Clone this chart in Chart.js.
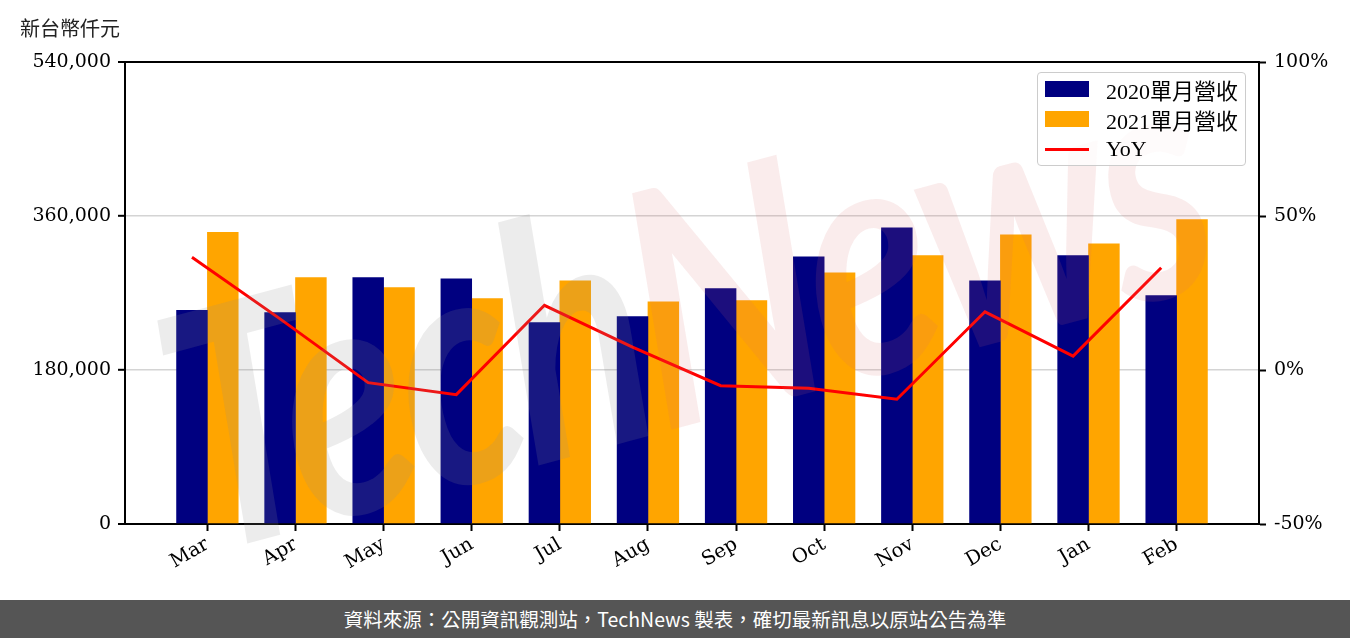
<!DOCTYPE html>
<html>
<head>
<meta charset="utf-8">
<script src="https://cdn.jsdelivr.net/npm/chart.js@4"></script>
<style>
  body { margin: 0; background: #fff; }
  #wrap { position: relative; width: 1350px; height: 638px; overflow: hidden; }
  #box { position: absolute; left: 0; top: 0; width: 1350px; height: 600px; }
  #unit { position: absolute; left: 20px; top: 13px; font: 20px "Noto Sans CJK TC", sans-serif; color: #222; }
  #legend { position: absolute; left: 1037px; top: 72px; width: 207px; height: 92px;
            border: 1px solid #ccc; border-radius: 4px; background: rgba(255,255,255,0.8); }
  .row { position: absolute; left: 7px; height: 30px; display: flex; align-items: center;
         font: 22px "Liberation Serif", "Noto Sans CJK TC", serif; color: #000; }
  .sw { width: 44px; margin-right: 17px; }
  #wm { position: absolute; left: 680px; top: 295px; transform: translate(-50%, -50%) rotate(-15deg) scale(0.8, 1);
        white-space: nowrap; font: italic 700 330px "Lato", sans-serif; pointer-events: none; letter-spacing: -10px; }
  #foot { position: absolute; left: 0; top: 600px; width: 1350px; height: 38px; background: #555;
          color: #fff; font: 19.5px "Noto Sans CJK TC", sans-serif; line-height: 38px; text-align: center; }
</style>
</head>
<body>
<div id="wrap">
  <div id="box"><canvas id="revChart"></canvas></div>
  <div id="unit">新台幣仟元</div>
  <div id="wm"><span style="color: rgba(140,140,140,0.17)">Tech</span><span style="color: rgba(215,110,110,0.13)">News</span></div>
  <div id="legend"></div>
  <div id="foot">資料來源：公開資訊觀測站，TechNews 製表，確切最新訊息以原站公告為準</div>
</div>
<script>
// 月份 (2020/2021 vs 2021/2022 對照)
const months = ['Mar', 'Apr', 'May', 'Jun', 'Jul', 'Aug', 'Sep', 'Oct', 'Nov', 'Dec', 'Jan', 'Feb'];
const rev2020 = [249600, 247000, 287900, 286700, 235300, 242300, 275100, 312400, 346300, 284200, 313600, 266900];
const rev2021 = [340800, 287900, 276200, 263400, 284200, 259700, 261000, 293700, 313600, 338000, 327600, 355700];
const yoy = [36.6, 16.6, -4.1, -8.0, 21.0, 7.4, -5.1, -5.9, -9.5, 18.9, 4.5, 33.2];
const seriesNames = ['2020單月營收', '2021單月營收', 'YoY'];
const seriesColors = ['#000080', '#ffa500', '#ff0000'];

const tickFont = { family: 'DejaVu Serif', size: 19 };
const xMin = -0.935, xMax = 11.935, shift = 0.175;   // 長條寬 0.35，左右各偏移半條

let ctx = document.getElementById('revChart').getContext('2d');
let chart = new Chart(ctx, {
    type: 'bar',
    data: {
        datasets: [
            {
                label: seriesNames[0],
                data: rev2020.map((v, i) => ({ x: i, y: v })),
                backgroundColor: seriesColors[0],
                xAxisID: 'xa', yAxisID: 'y',
                grouped: false, barThickness: 30.8, order: 2
            },
            {
                label: seriesNames[1],
                data: rev2021.map((v, i) => ({ x: i, y: v })),
                backgroundColor: seriesColors[1],
                xAxisID: 'xb', yAxisID: 'y',
                grouped: false, barThickness: 30.8, order: 2
            },
            {
                type: 'line',
                label: seriesNames[2],
                data: yoy.map((v, i) => ({ x: i, y: v })),
                borderColor: seriesColors[2],
                borderWidth: 3,
                pointRadius: 0,
                tension: 0,
                xAxisID: 'xa', yAxisID: 'y1', order: 1
            }
        ]
    },
    options: {
        responsive: true,
        maintainAspectRatio: false,
        animation: false,
        layout: { padding: { top: 62, left: 0, right: 0, bottom: 0 } },
        scales: {
            x: {
                type: 'linear',
                position: 'bottom',
                offset: false,
                min: xMin, max: xMax,
                afterFit: s => { s.height = 76; },
                ticks: {
                    stepSize: 1, includeBounds: false, autoSkip: false, maxTicksLimit: 20,
                    maxRotation: 30, minRotation: 30, padding: 2,
                    color: '#000', font: { family: 'DejaVu Serif', size: 19.5 },
                    callback: v => months[v] !== undefined ? months[v] : ''
                },
                grid: { offset: false, drawOnChartArea: false, tickLength: 7, tickColor: '#000', tickWidth: 2 },
                border: { color: '#000', width: 2 }
            },
            // 2020 長條與 YoY 折線 (左移半條)
            xa: { type: 'linear', display: false, offset: false, min: xMin + shift, max: xMax + shift },
            // 2021 長條 (右移半條)
            xb: { type: 'linear', display: false, offset: false, min: xMin - shift, max: xMax - shift },
            y: {
                position: 'left',
                min: 0, max: 540000,
                afterFit: s => { s.width = 125; },
                ticks: {
                    stepSize: 180000, padding: 7, color: '#000', font: tickFont,
                    callback: v => v.toLocaleString('en-US')
                },
                grid: {
                    color: c => (c.tick && (c.tick.value === 0 || c.tick.value === 540000)) ? '#000' : '#d4d4d4',
                    lineWidth: c => (c.tick && (c.tick.value === 0 || c.tick.value === 540000)) ? 2 : 1.6,
                    tickLength: 7, tickColor: '#000', tickWidth: 2
                },
                border: { color: '#000', width: 2 }
            },
            y1: {
                position: 'right',
                min: -50, max: 100,
                afterFit: s => { s.width = 91; },
                ticks: {
                    stepSize: 50, padding: 8, color: '#000', font: tickFont,
                    callback: v => v + '%'
                },
                grid: { drawOnChartArea: false, tickLength: 7, tickColor: '#000', tickWidth: 2 },
                border: { color: '#000', width: 2 }
            }
        },
        plugins: {
            legend: { display: false },
            tooltip: { enabled: false }
        }
    }
});

// 圖例
let legend = document.getElementById('legend');
chart.data.datasets.forEach((ds, i) => {
    let row = document.createElement('div');
    row.className = 'row';
    row.style.top = (1 + i * 30) + 'px';
    let sw = document.createElement('span');
    sw.className = 'sw';
    sw.style.background = seriesColors[i];
    sw.style.height = ds.type === 'line' ? '3px' : '16px';
    row.appendChild(sw);
    row.appendChild(document.createTextNode(ds.label));
    legend.appendChild(row);
});
</script>
</body>
</html>
